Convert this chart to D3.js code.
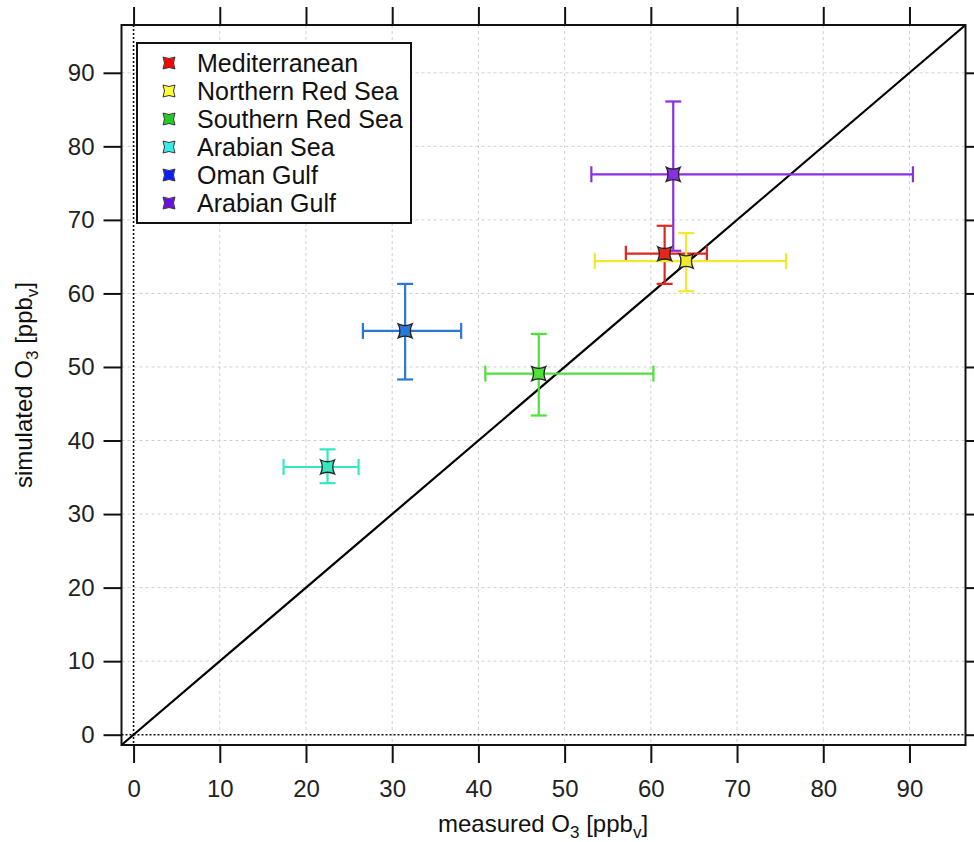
<!DOCTYPE html>
<html>
<head>
<meta charset="utf-8">
<script src="https://cdn.jsdelivr.net/npm/d3@7"></script>
<style>
  body { margin: 0; background: #fff; }
  text { font-family: "Liberation Sans", Arial, Helvetica, sans-serif; }
</style>
</head>
<body>
<div id="vis"></div>
<script>
// data
const regions = ["Mediterranean", "Northern Red Sea", "Southern Red Sea", "Arabian Sea", "Oman Gulf", "Arabian Gulf"];
const measured = [61.6, 64.1, 47.0, 22.5, 31.5, 62.6];
const measuredLo = [57.1, 53.5, 40.8, 17.4, 26.6, 53.1];
const measuredHi = [66.5, 75.7, 60.3, 26.1, 38.0, 90.4];
const simulated = [65.4, 64.4, 49.1, 36.4, 54.9, 76.2];
const simulatedLo = [61.3, 60.3, 43.4, 34.2, 48.3, 65.8];
const simulatedHi = [69.2, 68.2, 54.5, 38.8, 61.3, 86.1];
const barColors = ["#e0261f", "#f2e82c", "#4fe03c", "#34e8c2", "#2a78d6", "#8a2ee0"];
const markColors = ["#ff0000", "#ffff33", "#22cc22", "#33eeee", "#0a1cff", "#6a10e0"];
const ticks = [0, 10, 20, 30, 40, 50, 60, 70, 80, 90];

const W = 974, H = 842;
const mLeft = 121.5, mRight = 965.5, mTop = 25, mBottom = 745;

const svg = d3.select("#vis").append("svg")
    .attr("width", W).attr("height", H);

const x = d3.scaleLinear().domain([-1.4, 96.5]).range([mLeft, mRight]);
const y = d3.scaleLinear().domain([-1.4, 96.5]).range([mBottom, mTop]);

// grid
const grid = svg.append("g");
grid.selectAll("line.gx").data(ticks.filter(t => t !== 0)).enter().append("line")
    .attr("x1", d => x(d)).attr("x2", d => x(d))
    .attr("y1", mTop).attr("y2", mBottom)
    .attr("stroke", "#cfcfcf").attr("stroke-width", 1).attr("stroke-dasharray", "3,3");
grid.selectAll("line.gy").data(ticks.filter(t => t !== 0)).enter().append("line")
    .attr("y1", d => y(d)).attr("y2", d => y(d))
    .attr("x1", mLeft).attr("x2", mRight)
    .attr("stroke", "#cfcfcf").attr("stroke-width", 1).attr("stroke-dasharray", "3,3");

// zero lines
svg.append("line").attr("x1", x(0)).attr("x2", x(0)).attr("y1", mTop).attr("y2", mBottom)
    .attr("stroke", "#111").attr("stroke-width", 1.6).attr("stroke-dasharray", "2,2");
svg.append("line").attr("y1", y(0)).attr("y2", y(0)).attr("x1", mLeft).attr("x2", mRight)
    .attr("stroke", "#111").attr("stroke-width", 1.6).attr("stroke-dasharray", "2,2");

// 1:1 line
svg.append("line")
    .attr("x1", x(-1.4)).attr("y1", y(-1.4))
    .attr("x2", x(96.5)).attr("y2", y(96.5))
    .attr("stroke", "#000").attr("stroke-width", 2.2);

// axes
const tickLen = 18;
const axB = svg.append("g").attr("transform", `translate(0,${mBottom})`)
    .call(d3.axisBottom(x).tickValues(ticks).tickSize(tickLen).tickPadding(17));
const axT = svg.append("g").attr("transform", `translate(0,${mTop})`)
    .call(d3.axisTop(x).tickValues(ticks).tickSize(tickLen).tickFormat(""));
const axL = svg.append("g").attr("transform", `translate(${mLeft},0)`)
    .call(d3.axisLeft(y).tickValues(ticks).tickSize(tickLen).tickPadding(9));
const axR = svg.append("g").attr("transform", `translate(${mRight},0)`)
    .call(d3.axisRight(y).tickValues(ticks).tickSize(tickLen).tickFormat(""));
[axB, axT, axL, axR].forEach(a => {
  a.select(".domain").remove();
  a.selectAll(".tick line").attr("stroke", "#111").attr("stroke-width", 2);
  a.selectAll(".tick text").attr("font-size", 24).attr("fill", "#222")
      .style("font-family", '"Liberation Sans", Arial, sans-serif');
});

// frame
svg.append("rect").attr("x", mLeft).attr("y", mTop)
    .attr("width", mRight - mLeft).attr("height", mBottom - mTop)
    .attr("fill", "none").attr("stroke", "#111").attr("stroke-width", 2);

// marker shape: square with concave sides
function markerPath(s) {
  const c = s * 0.5;
  return `M${-s},${-s} Q0,${-c} ${s},${-s} Q${c},0 ${s},${s} Q0,${c} ${-s},${s} Q${-c},0 ${-s},${-s} Z`;
}

const cap = 8;
const pts = svg.append("g");
regions.forEach((r, i) => {
  const g = pts.append("g");
  const cx = x(measured[i]), cy = y(simulated[i]);
  const col = barColors[i];
  const xl = x(measuredLo[i]), xh = x(measuredHi[i]);
  const yl = y(simulatedLo[i]), yh = y(simulatedHi[i]);
  const seg = (x1, y1, x2, y2) => g.append("line")
      .attr("x1", x1).attr("y1", y1).attr("x2", x2).attr("y2", y2)
      .attr("stroke", col).attr("stroke-width", 2.2);
  seg(xl, cy, xh, cy);
  seg(xl, cy - cap, xl, cy + cap);
  seg(xh, cy - cap, xh, cy + cap);
  seg(cx, yl, cx, yh);
  seg(cx - cap, yl, cx + cap, yl);
  seg(cx - cap, yh, cx + cap, yh);
});
regions.forEach((r, i) => {
  pts.append("path")
      .attr("d", markerPath(7))
      .attr("transform", `translate(${x(measured[i])},${y(simulated[i])})`)
      .attr("fill", barColors[i]).attr("stroke", "#222").attr("stroke-width", 1.3);
});

// legend
const lg = svg.append("g");
lg.append("rect").attr("x", 137).attr("y", 43).attr("width", 274).attr("height", 180)
    .attr("fill", "#fff").attr("stroke", "#111").attr("stroke-width", 2);
regions.forEach((r, i) => {
  const yy = 63 + i * 28;
  lg.append("path").attr("d", markerPath(6))
      .attr("transform", `translate(169,${yy})`)
      .attr("fill", markColors[i]).attr("stroke", "#333").attr("stroke-width", 1);
  lg.append("text").attr("x", 197).attr("y", yy + 8.5)
      .attr("font-size", 25).attr("fill", "#111").text(r);
});

// axis titles
const xt = svg.append("text").attr("x", 543).attr("y", 832)
    .attr("text-anchor", "middle").attr("font-size", 24).attr("fill", "#111");
xt.append("tspan").text("measured O");
xt.append("tspan").attr("font-size", 17).attr("dy", 6).text("3");
xt.append("tspan").attr("dy", -6).text(" [ppb");
xt.append("tspan").attr("font-size", 17).attr("dy", 6).text("v");
xt.append("tspan").attr("dy", -6).text("]");

const yt = svg.append("text").attr("transform", "translate(32,385) rotate(-90)")
    .attr("text-anchor", "middle").attr("font-size", 24).attr("fill", "#111");
yt.append("tspan").text("simulated O");
yt.append("tspan").attr("font-size", 17).attr("dy", 6).text("3");
yt.append("tspan").attr("dy", -6).text(" [ppb");
yt.append("tspan").attr("font-size", 17).attr("dy", 6).text("v");
yt.append("tspan").attr("dy", -6).text("]");
</script>
</body>
</html>
